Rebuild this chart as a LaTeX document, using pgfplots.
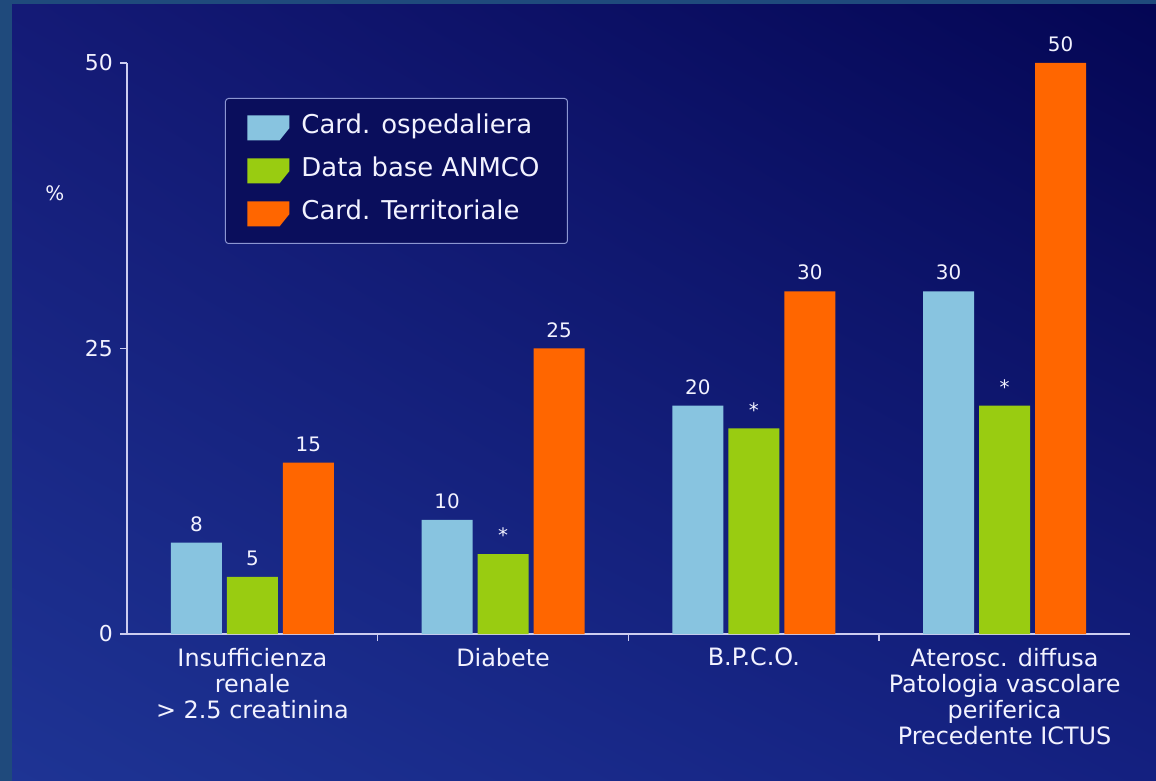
\documentclass[border=0pt]{standalone}
\usepackage{fontspec}
\setmainfont{DejaVu Sans}
\usepackage{pgfplots}
\pgfplotsset{compat=1.18}
\usetikzlibrary{shadings}

\definecolor{frameblue}{RGB}{31,74,124}
\definecolor{bgUL}{RGB}{20,26,118}
\definecolor{bgUR}{RGB}{4,6,84}
\definecolor{bgLL}{RGB}{30,52,148}
\definecolor{bgLR}{RGB}{20,32,128}
\definecolor{cardosp}{RGB}{136,196,224}
\definecolor{anmco}{RGB}{153,204,17}
\definecolor{cardterr}{RGB}{255,102,0}
\definecolor{axisline}{RGB}{205,205,240}
\definecolor{legfill}{RGB}{10,14,92}
\definecolor{legdraw}{RGB}{140,150,210}
\definecolor{txt}{RGB}{242,242,255}

% legend swatch: a block with its lower right corner cut away
\pgfplotsset{swatch legend/.style={legend image code/.code={%
  \fill[##1,sharp corners] (0bp,-12.5bp) -- (32bp,-12.5bp) -- (42bp,0bp)
     -- (42bp,12.5bp) -- (0bp,12.5bp) -- cycle;}}}

\begin{document}
\begin{tikzpicture}
\useasboundingbox (0bp,0bp) rectangle (1156bp,781bp);
\fill[frameblue] (0bp,0bp) rectangle (1156bp,781bp);
\shade[upper left=bgUL, upper right=bgUR, lower left=bgLL, lower right=bgLR]
  (12bp,0bp) rectangle (1156bp,776bp);

\begin{axis}[
  at={(127bp,147bp)}, anchor=south west,
  scale only axis, width=1003bp, height=571bp,
  xmin=-0.5, xmax=3.5, ymin=0, ymax=50,
  axis x line*=bottom, axis y line*=left,
  axis line style={-, draw=axisline, line width=2bp},
  clip=false,
  ybar=5bp, bar width=51bp,
  xtick={0,1,2,3}, minor xtick={0.5,1.5,2.5},
  ytick={0,25,50},
  tick align=outside,
  major tick length=7bp, minor tick length=7bp,
  tick style={draw=axisline, line width=1.5bp},
  major x tick style={draw=none},
  /pgf/number format/assume math mode=true,
  ticklabel style={text=txt},
  yticklabel style={font=\fontsize{22}{22}\selectfont, inner sep=0pt, xshift=-7bp},
  xticklabels={Insufficienza\\renale\\> 2.5 creatinina, Diabete, B.P.C.O.,
    Aterosc. diffusa\\Patologia vascolare\\periferica\\Precedente ICTUS},
  xticklabel style={align=center, font=\fontsize{24}{26}\selectfont,
    anchor=north, inner sep=0pt, yshift=-7bp},
  ylabel={\%},
  ylabel style={rotate=-90, at={(axis description cs:-0.072,0.772)},
    anchor=center, text=txt, font=\fontsize{20}{20}\selectfont},
  nodes near coords,
  nodes near coords style={font=\fontsize{20}{20}\selectfont, text=txt,
    anchor=south, inner sep=0pt, yshift=11bp},
  legend cell align=left,
  legend style={at={(axis description cs:0.0977,0.9387)}, anchor=north west,
    draw=legdraw, fill=legfill, rounded corners=3bp, line width=1bp,
    text=txt, font=\fontsize{26}{26}\selectfont,
    inner xsep=22bp, inner ysep=17bp, row sep=18bp,
    nodes={inner xsep=6bp, inner ysep=0bp, text height=17bp, text depth=5bp}},
]
\addplot[fill=cardosp, draw=none, swatch legend]
  coordinates {(0,8) (1,10) (2,20) (3,30)};
\addplot[fill=anmco, draw=none, swatch legend, point meta=explicit symbolic,
  nodes near coords={\pgfplotspointmeta}]
  coordinates {(0,5)[5] (1,7)[*] (2,18)[*] (3,20)[*]};
\addplot[fill=cardterr, draw=none, swatch legend]
  coordinates {(0,15) (1,25) (2,30) (3,50)};
\legend{\hspace{6bp}Card. ospedaliera, \hspace{6bp}Data base ANMCO,
  \hspace{6bp}Card. Territoriale}
\end{axis}
\end{tikzpicture}
\end{document}
